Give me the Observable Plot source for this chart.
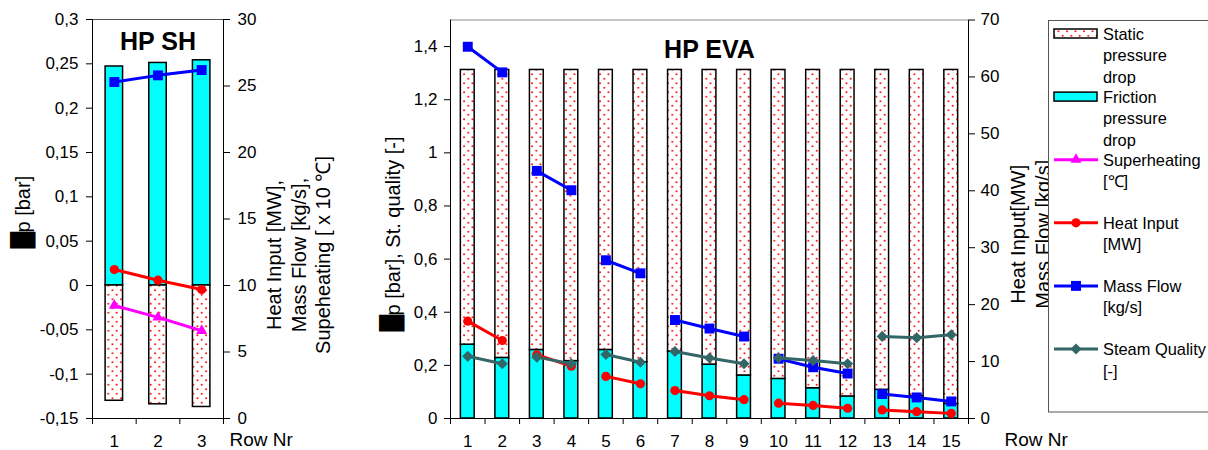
<!DOCTYPE html>
<html>
<head>
<meta charset="utf-8">
<script src="https://cdn.jsdelivr.net/npm/d3@7"></script>
<script src="https://cdn.jsdelivr.net/npm/@observablehq/plot@0.6"></script>
<style>
  html, body { margin: 0; padding: 0; background: #ffffff; }
  #page { position: relative; width: 1208px; height: 450px; overflow: hidden; background: #ffffff; }
  .panel { position: absolute; top: 0; }
  .panel svg { max-width: none; }
</style>
</head>
<body>
<div id="page"></div>
<script>
// ---------- HP SH (superheater), rows 1–3 ----------
const shRows = [1, 2, 3];
const shFriction = [0.247, 0.251, 0.254];        // friction pressure drop [bar]
const shStatic = [-0.130, -0.134, -0.137];       // static pressure drop [bar]
const shMassFlow = [25.3, 25.8, 26.2];           // [kg/s]
const shHeatInput = [11.2, 10.4, 9.7];           // [MW]
const shSuperheating = [8.5, 7.6, 6.6];          // [x 10 °C]
const shLeftTicks = [-0.15, -0.1, -0.05, 0, 0.05, 0.1, 0.15, 0.2, 0.25, 0.3];
const shRightTicks = [0, 5, 10, 15, 20, 25, 30];

// ---------- HP EVA (evaporator), rows 1–15 ----------
const evaRows = [1, 2, 3, 4, 5, 6, 7, 8, 9, 10, 11, 12, 13, 14, 15];
const evaPass = [1, 1, 2, 2, 3, 3, 4, 4, 4, 5, 5, 5, 6, 6, 6];   // rows joined by one line
const evaFriction = [0.278, 0.228, 0.258, 0.216, 0.258, 0.212, 0.252, 0.203, 0.162, 0.149, 0.114, 0.083, 0.108, 0.085, 0.055];
const evaStatic = [1.034, 1.084, 1.054, 1.096, 1.054, 1.100, 1.060, 1.109, 1.150, 1.163, 1.198, 1.229, 1.204, 1.227, 1.257];
const evaSteamQuality = [0.234, 0.206, 0.231, 0.206, 0.241, 0.212, 0.252, 0.228, 0.206, 0.228, 0.218, 0.206, 0.309, 0.304, 0.315];
const evaHeatInput = [17.1, 13.7, 11.2, 9.2, 7.4, 6.1, 4.9, 4.0, 3.3, 2.7, 2.3, 1.8, 1.5, 1.2, 0.9];
const evaMassFlow = [65.3, 60.8, 43.5, 40.1, 27.8, 25.5, 17.3, 15.8, 14.4, 10.5, 9.0, 7.9, 4.3, 3.7, 3.0];
const evaLeftTicks = [0, 0.2, 0.4, 0.6, 0.8, 1, 1.2, 1.4];
const evaRightTicks = [0, 10, 20, 30, 40, 50, 60, 70];

// ---------- legend ----------
const legendKinds = ["static", "friction", "superheating", "heat", "mass", "steam"];
const legendLabels = [
  ["Static", "pressure", "drop"],
  ["Friction", "pressure", "drop"],
  ["Superheating", "[\u2103]"],
  ["Heat Input", "[MW]"],
  ["Mass Flow", "[kg/s]"],
  ["Steam Quality", "[-]"]
];

// ---------- styling ----------
const FONT = '"Liberation Sans", Arial, Helvetica, sans-serif';
const BOX_FONT = '"DejaVu Sans", sans-serif';
const CYAN = "#00ffff", BLUE = "#0000ff", RED = "#ff0000", MAGENTA = "#ff00ff", SLATE = "#336666";
const BAR = 0.4;                       // bar width, share of one row slot
const LINE_W = 3;
const comma = d => String(d).replace(".", ",");

const page = document.getElementById("page");

// red dotted fill shared by the static pressure drop bars
const defsSvg = d3.select(page).append("svg")
  .attr("width", 0).attr("height", 0)
  .style("position", "absolute");
const pat = defsSvg.append("defs").append("pattern")
  .attr("id", "dots").attr("patternUnits", "userSpaceOnUse")
  .attr("width", 8.5).attr("height", 9);
pat.append("rect").attr("width", 8.5).attr("height", 9).attr("fill", "#ffffff");
pat.append("circle").attr("cx", 2).attr("cy", 2.2).attr("r", 0.95).attr("fill", RED);
pat.append("circle").attr("cx", 6.25).attr("cy", 6.7).attr("r", 0.95).attr("fill", RED);

function mount(node, left, width) {
  const div = document.createElement("div");
  div.className = "panel";
  div.style.left = left + "px";
  div.style.width = width + "px";
  div.appendChild(node);
  page.appendChild(div);
}

const svgStyle = {fontFamily: FONT, fontSize: "17px", background: "none", color: "#000000", overflow: "visible"};

// rotated axis title, read bottom to top
const vTitle = (s, o) => Plot.text([s], {text: d => d, rotate: -90, lineAnchor: "middle", fontSize: 20, ...o});

// ================= HP SH =================
const sh = shRows.map((row, i) => ({
  row, friction: shFriction[i], static: shStatic[i],
  massFlow: shMassFlow[i], heatInput: shHeatInput[i], superheating: shSuperheating[i]
}));
const shRight = d3.scaleLinear([0, 30], [-0.15, 0.3]);   // right axis -> left axis units

const shPlot = Plot.plot({
  width: 350, height: 450,
  marginTop: 19, marginBottom: 32, marginLeft: 92, marginRight: 127,
  style: svgStyle,
  x: {type: "linear", domain: [0.5, 3.5]},
  y: {type: "linear", domain: [-0.15, 0.3]},
  marks: [
    Plot.rect(sh, {x1: d => d.row - BAR / 2, x2: d => d.row + BAR / 2, y1: 0, y2: "friction",
      fill: CYAN, stroke: "#000000", strokeWidth: 1.5}),
    Plot.rect(sh, {x1: d => d.row - BAR / 2, x2: d => d.row + BAR / 2, y1: 0, y2: "static",
      fill: "url(#dots)", stroke: "#000000", strokeWidth: 1.5}),
    Plot.ruleY([0.3], {stroke: "#505050"}),
    Plot.ruleY([-0.15], {stroke: "#000000"}),
    Plot.ruleX([0.5, 3.5], {stroke: "#000000"}),
    Plot.axisY({ticks: shLeftTicks, anchor: "left", tickSize: 6, tickPadding: 8, tickFormat: comma, label: null}),
    Plot.axisY({ticks: shRightTicks.map(shRight), anchor: "right", tickSize: 6, tickPadding: 8,
      tickFormat: d => String(Math.round(shRight.invert(d))), label: null}),
    Plot.axisX({ticks: [0.5, 1.5, 2.5, 3.5], tickSize: 6, tickFormat: () => "", label: null}),
    Plot.axisX({ticks: shRows, tickSize: 0, tickPadding: 16.5, tickFormat: d => String(d), label: null}),
    // superheating
    Plot.line(sh, {x: "row", y: d => shRight(d.superheating), stroke: MAGENTA, strokeWidth: LINE_W}),
    Plot.dot(sh, {x: "row", y: d => shRight(d.superheating), symbol: "triangle", r: 4.1, fill: MAGENTA}),
    // heat input
    Plot.line(sh, {x: "row", y: d => shRight(d.heatInput), stroke: RED, strokeWidth: LINE_W}),
    Plot.dot(sh, {x: "row", y: d => shRight(d.heatInput), symbol: "circle", r: 4.6, fill: RED}),
    // mass flow
    Plot.line(sh, {x: "row", y: d => shRight(d.massFlow), stroke: BLUE, strokeWidth: LINE_W}),
    Plot.dot(sh, {x: "row", y: d => shRight(d.massFlow), symbol: "square", r: 5.6, fill: BLUE}),
    // titles
    Plot.text(["HP SH"], {text: d => d, frameAnchor: "top", dy: 22, lineAnchor: "middle",
      textAnchor: "middle", fontSize: 25, fontWeight: "bold"}),
    vTitle("\u2588", {frameAnchor: "left", dx: -69.5, dy: 29.5, textAnchor: "start",
      fontFamily: BOX_FONT, fontSize: 21.5}),
    vTitle("p [bar]", {frameAnchor: "left", dx: -69, dy: 13.5, textAnchor: "start"}),
    vTitle("Heat Input [MW],\nMass Flow [kg/s],\nSupeheating [ x 10 \u2103]", {frameAnchor: "right",
      dx: 74.5, dy: 36, textAnchor: "middle", lineHeight: 1.23}),
    Plot.text(["Row Nr"], {text: d => d, frameAnchor: "bottom-right", dx: 6, dy: 21.5,
      textAnchor: "start", lineAnchor: "middle", fontSize: 19})
  ]
});
mount(shPlot, 0, 350);

// ================= HP EVA =================
const eva = evaRows.map((row, i) => ({
  row, pass: evaPass[i], friction: evaFriction[i], static: evaStatic[i],
  steamQuality: evaSteamQuality[i], heatInput: evaHeatInput[i], massFlow: evaMassFlow[i]
}));
const evaRight = d3.scaleLinear([0, 70], [0, 1.5]);     // right axis -> left axis units

const evaPlot = Plot.plot({
  width: 700, height: 450,
  marginTop: 19.5, marginBottom: 32, marginLeft: 90, marginRight: 92,
  style: svgStyle,
  x: {type: "linear", domain: [0.5, 15.5]},
  y: {type: "linear", domain: [0, 1.5]},
  marks: [
    // friction at the bottom, static stacked on top of it
    Plot.rect(eva, {x1: d => d.row - BAR / 2, x2: d => d.row + BAR / 2, y1: 0, y2: "friction",
      fill: CYAN, stroke: "#000000", strokeWidth: 1.5}),
    Plot.rect(eva, {x1: d => d.row - BAR / 2, x2: d => d.row + BAR / 2, y1: "friction",
      y2: d => d.friction + d.static, fill: "url(#dots)", stroke: "#000000", strokeWidth: 1.5}),
    Plot.ruleY([1.5], {stroke: "#8a8a8a"}),
    Plot.ruleY([0], {stroke: "#000000"}),
    Plot.ruleX([0.5, 15.5], {stroke: "#000000"}),
    Plot.axisY({ticks: evaLeftTicks, anchor: "left", tickSize: 6, tickPadding: 7, tickFormat: comma, label: null}),
    Plot.axisY({ticks: evaRightTicks.map(evaRight), anchor: "right", tickSize: 6, tickPadding: 6,
      tickFormat: d => String(Math.round(evaRight.invert(d))), label: null}),
    Plot.axisX({ticks: evaRows.map(r => r - 0.5).concat([15.5]), tickSize: 6, tickFormat: () => "", label: null}),
    Plot.axisX({ticks: evaRows, tickSize: 0, tickPadding: 16.5, tickFormat: d => String(d), label: null}),
    // heat input
    Plot.line(eva, {x: "row", y: d => evaRight(d.heatInput), z: "pass", stroke: RED, strokeWidth: LINE_W}),
    Plot.dot(eva, {x: "row", y: d => evaRight(d.heatInput), symbol: "circle", r: 4.6, fill: RED}),
    // mass flow
    Plot.line(eva, {x: "row", y: d => evaRight(d.massFlow), z: "pass", stroke: BLUE, strokeWidth: LINE_W}),
    Plot.dot(eva, {x: "row", y: d => evaRight(d.massFlow), symbol: "square", r: 5.6, fill: BLUE}),
    // steam quality (left axis)
    Plot.line(eva, {x: "row", y: "steamQuality", z: "pass", stroke: SLATE, strokeWidth: LINE_W}),
    Plot.dot(eva, {x: "row", y: "steamQuality", symbol: "diamond2", r: 5, fill: SLATE}),
    // titles
    Plot.text(["HP EVA"], {text: d => d, frameAnchor: "top", dy: 29.5, lineAnchor: "middle",
      textAnchor: "middle", fontSize: 25, fontWeight: "bold"}),
    vTitle("\u2588", {frameAnchor: "left", dx: -58, dy: 112.25, textAnchor: "start",
      fontFamily: BOX_FONT, fontSize: 21.5}),
    vTitle("p [bar], St. quality [-]", {frameAnchor: "left", dx: -57, dy: 96.25, textAnchor: "start"}),
    vTitle("Heat Input[MW]\nMass Flow [kg/s]", {frameAnchor: "right", dx: 61, dy: 15,
      textAnchor: "middle", lineHeight: 1.23}),
    Plot.text(["Row Nr"], {text: d => d, frameAnchor: "bottom-right", dx: 36, dy: 21,
      textAnchor: "start", lineAnchor: "middle", fontSize: 19})
  ]
});
mount(evaPlot, 360, 700);

// ================= legend =================
const lg = d3.create("svg")
  .attr("width", 175).attr("height", 394)
  .style("font-family", FONT).style("font-size", "16.4px")
  .style("display", "block");
lg.append("rect").attr("x", 0.5).attr("y", 0.5).attr("width", 173).attr("height", 391.5)
  .attr("fill", "#ffffff").attr("stroke", "#555555");

const LG_FIRST = 19.5, LG_STEP = 63.1, LG_LINE = 21.5, SW_X0 = 6, SW_X1 = 49, TXT_X = 55;
legendKinds.forEach((kind, i) => {
  const base = LG_FIRST + i * LG_STEP;
  const mid = base - 6;
  const g = lg.append("g");
  if (kind === "static" || kind === "friction") {
    g.append("rect").attr("x", SW_X0).attr("y", mid - 4.5).attr("width", SW_X1 - SW_X0).attr("height", 9)
      .attr("fill", kind === "static" ? "url(#dots)" : CYAN)
      .attr("stroke", "#000000").attr("stroke-width", 1.5);
  } else {
    const spec = {
      superheating: [MAGENTA, d3.symbolTriangle, 52],
      heat: [RED, d3.symbolCircle, 66],
      mass: [BLUE, d3.symbolSquare, 99],
      steam: [SLATE, d3.symbolDiamond2, 78]
    }[kind];
    g.append("line").attr("x1", SW_X0).attr("x2", SW_X1 + 1).attr("y1", mid).attr("y2", mid)
      .attr("stroke", spec[0]).attr("stroke-width", LINE_W);
    g.append("path").attr("d", d3.symbol(spec[1], spec[2])())
      .attr("transform", `translate(${(SW_X0 + SW_X1 + 1) / 2},${mid})`).attr("fill", spec[0]);
  }
  legendLabels[i].forEach((t, j) => {
    g.append("text").attr("x", TXT_X).attr("y", base + j * LG_LINE).attr("fill", "#000000").text(t);
  });
});
const lgDiv = document.createElement("div");
lgDiv.style.position = "absolute";
lgDiv.style.left = "1048px";
lgDiv.style.top = "20px";
lgDiv.appendChild(lg.node());
page.appendChild(lgDiv);
</script>
</body>
</html>
